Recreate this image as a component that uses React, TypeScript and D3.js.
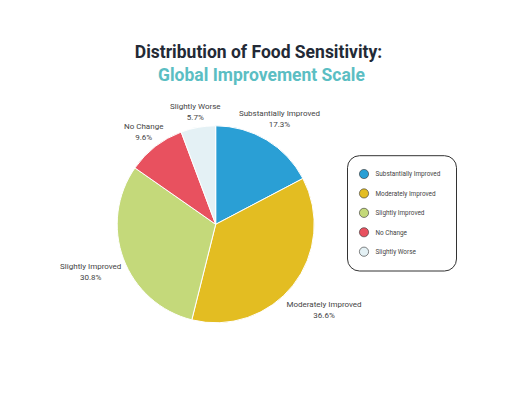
import React from "react";
import * as d3 from "d3";

const categories = ["Substantially Improved", "Moderately Improved", "Slightly Improved", "No Change", "Slightly Worse"];
const values = [17.3, 36.6, 30.8, 9.6, 5.7];
const colors = ["#2a9fd5", "#e3bd22", "#c4d97a", "#e8515f", "#e4f1f5"];
const titleLine1 = "Distribution of Food Sensitivity:";
const titleLine2 = "Global Improvement Scale";

const W = 512;
const H = 394;
const cx = 215.7;
const cy = 224.3;
const R = 98.5;

export default function App() {
  const pie = d3.pie<number>().sort(null).value((d) => d);
  const arcs = pie(values);
  const arcGen = d3.arc<d3.PieArcDatum<number>>().innerRadius(0).outerRadius(R);
  const legendY = d3.scalePoint<string>().domain(categories).range([174, 251.7]);
  const font = "Roboto, 'Noto Sans', sans-serif";

  return (
    <>
      <style>{"body{margin:0}"}</style>
      <svg width={W} height={H} style={{ display: "block", background: "#fff" }}>
        <text x={258.5} y={57.5} textAnchor="middle" fontFamily={font} fontWeight={700} fontSize={17.5} fill="#232a36">
          {titleLine1}
        </text>
        <text x={261.5} y={80.5} textAnchor="middle" fontFamily={font} fontWeight={700} fontSize={17.5} fill="#5bbec3">
          {titleLine2}
        </text>
        <g transform={`translate(${cx},${cy})`}>
          {arcs.map((a, i) => (
            <path key={i} d={arcGen(a) || ""} fill={colors[i]} stroke="#fff" strokeWidth={1} />
          ))}
          {arcs.map((a, i) => {
            const mid = (a.startAngle + a.endAngle) / 2;
            const lr = R * 1.12 + values[i] * 0.75;
            const x = Math.sin(mid) * lr;
            const y = -Math.cos(mid) * lr;
            return (
              <g key={"l" + i} fontFamily={font} fontSize={8} fill="#444" textAnchor="middle">
                <text x={x} y={y - 2.5}>{categories[i]}</text>
                <text x={x} y={y + 8.5}>{values[i].toFixed(1)}%</text>
              </g>
            );
          })}
        </g>
        <rect x={347.5} y={155.7} width={109} height={115.3} rx={12} ry={12} fill="#fff" stroke="#333" strokeWidth={1} />
        {categories.map((c, i) => (
          <g key={"lg" + i}>
            <circle cx={364} cy={legendY(c)} r={4.6} fill={colors[i]} stroke="#333" strokeWidth={0.6} />
            <text x={375.5} y={(legendY(c) || 0) + 2.3} fontFamily={font} fontSize={6.4} fill="#444">
              {c}
            </text>
          </g>
        ))}
      </svg>
    </>
  );
}
